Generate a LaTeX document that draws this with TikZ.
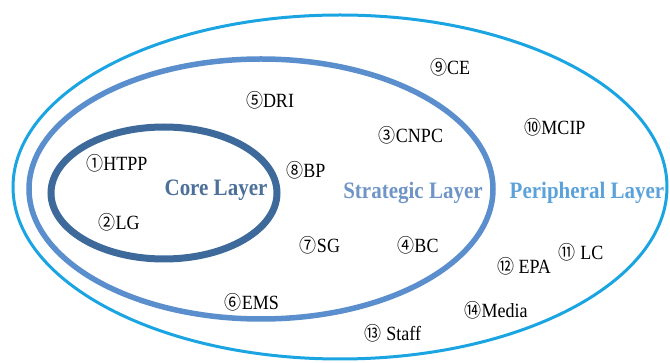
\documentclass[tikz,border=0pt]{standalone}
\usepackage{fontspec}
\setmainfont{Liberation Serif}
\newfontfamily\circfont{Noto Sans CJK SC}
\usetikzlibrary{positioning}
\definecolor{coreblue}{HTML}{3D6A9B}
\definecolor{corelabel}{HTML}{4C7099}
\definecolor{stratblue}{HTML}{5A8ECC}
\definecolor{stratlabel}{HTML}{6F95C6}
\definecolor{periblue}{HTML}{1AA5E2}
\definecolor{perilabel}{HTML}{5CA2DA}
\newcommand{\circnum}[1]{{\circfont\fontsize{17}{17}\selectfont #1}}
\newcommand{\tall}[1]{\scalebox{1}[1.12]{#1}}

\tikzset{
  member/.style={font=\fontsize{18}{20}\selectfont, inner sep=0pt},
  layername/.style={font=\bfseries\fontsize{21}{23}\selectfont, inner sep=0pt},
}

\begin{document}
\begin{tikzpicture}[x=1pt, y=-1pt]
    \useasboundingbox (0,0) rectangle (670,363);
    % layers
    \draw[periblue, line width=3pt] (340,187) ellipse [x radius=327, y radius=172];
    \draw[stratblue, line width=5.5pt] (261,189) ellipse [x radius=232, y radius=130];
    \draw[coreblue, line width=7pt] (164,193) ellipse [x radius=113, y radius=66];

    \node[layername, text=corelabel] (core) at (216,190) {\tall{Core Layer}};
    \node[layername, text=stratlabel] (strategic) at (413,193) {\tall{Strategic Layer}};
    \node[layername, text=perilabel] (peripheral) at (587,193) {\tall{Peripheral Layer}};

    % stakeholders
    \node[member] (htpp) at (117,163) {\tall{\circnum{①}HTPP}};
    \node[member] (lg) at (119,222) {\tall{\circnum{②}LG}};
    \node[member] (dri) at (270,100) {\tall{\circnum{⑤}DRI}};
    \node[member] (bp) at (306,170) {\tall{\circnum{⑧}BP}};
    \node[member] (sg) at (320,245) {\tall{\circnum{⑦}SG}};
    \node[member] (ems) at (252,302) {\tall{\circnum{⑥}EMS}};
    \node[member] (cnpc) at (411,135) {\tall{\circnum{③}CNPC}};
    \node[member] (bc) at (418,245) {\tall{\circnum{④}BC}};
    \node[member] (ce) at (450,67) {\tall{\circnum{⑨}CE}};
    \node[member] (mcip) at (555,127) {\tall{\circnum{⑩}MCIP}};
    \node[member] (lc) at (581,252) {\tall{\circnum{⑪} LC}};
    \node[member] (epa) at (524,266) {\tall{\circnum{⑫} EPA}};
    \node[member] (media) at (496,310) {\tall{\circnum{⑭}Media}};
    \node[member] (staff) at (393,333) {\tall{\circnum{⑬} Staff}};
\end{tikzpicture}
\end{document}
